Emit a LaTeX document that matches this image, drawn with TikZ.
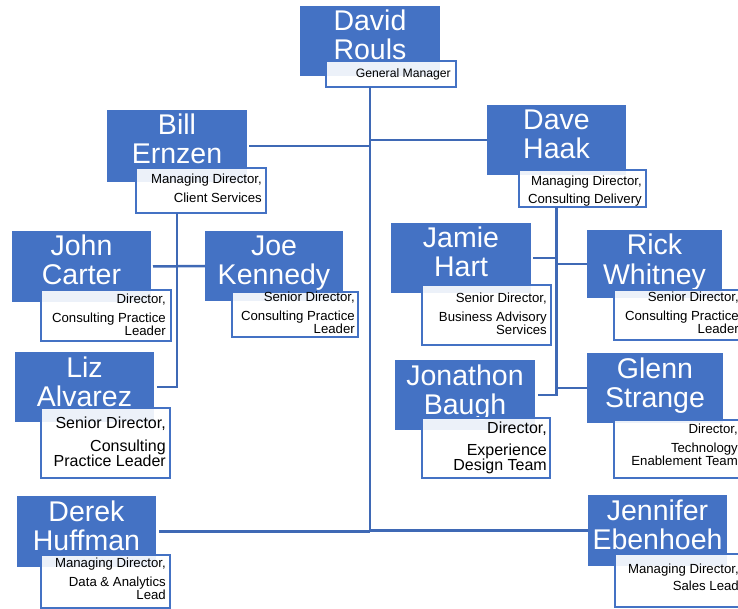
\documentclass[tikz,border=0pt]{standalone}
\usepackage{fontspec}
\setmainfont{Liberation Sans}
\definecolor{boxblue}{HTML}{4472C4}
\definecolor{linkblue}{HTML}{3F69B5}
\tikzset{
  namebox/.style={fill=boxblue, inner sep=0pt, outer sep=0pt},
  nametext/.style={text=white, font=\fontsize{28.5}{30}\selectfont, inner sep=0pt, anchor=base},
  rolebox/.style={draw=boxblue, line width=2pt, fill=white, fill opacity=0.9, inner sep=0pt, outer sep=0pt},
  roletext/.style={text=black, align=right, inner sep=0pt, anchor=north east},
  rolemid/.style={font=\fontsize{13.2}{13.5}\selectfont, yshift=9.45pt},
  rolebig/.style={font=\fontsize{16}{15.2}\selectfont, yshift=11.5pt},
  rolesmall/.style={font=\fontsize{12.2}{13}\selectfont, yshift=8.7pt},
  link/.style={draw=linkblue, line width=2.5pt},
}
% #1 id, #2-#5 box corners (x1,y1,x2,y2), #6 first name, #7 last name
\newcommand{\orgperson}[7]{%
  \node[namebox, minimum width={(#4-#2)*1pt}, minimum height={(#5-#3)*1pt}]
    (#1) at ({(#2+#4)/2},{(#3+#5)/2}) {};
  \node[nametext] (#1-a) at ({(#2+#4)/2},{#3+25}) {#6};
  \node[nametext] (#1-b) at ({(#2+#4)/2},{#3+54}) {#7};
}
% #1 id, #2-#5 box corners, #6 right edge of text, #7 first baseline, #8 text size style, #9 text
\newcommand{\orgrole}[9]{%
  \node[rolebox, minimum width={(#4-#2)*1pt}, minimum height={(#5-#3)*1pt}]
    (#1-t) at ({(#2+#4)/2},{(#3+#5)/2}) {};
  \node[roletext, #8] (#1-r) at (#6,#7) {#9};
}
\begin{document}
\begin{tikzpicture}[x=1pt, y=-1pt]
\useasboundingbox (0,0) rectangle (738,609);
\clip (0,0) rectangle (738,609);

% top
\orgperson{david}{300}{6}{440}{76}{David}{Rouls}
\orgrole{david}{326}{61}{456}{87}{451}{77}{rolesmall}{General Manager}

% second level
\orgperson{bill}{107}{110}{247}{182}{Bill}{Ernzen}
\orgrole{bill}{136}{168}{266}{213}{262}{183}{rolemid}{Managing Director,\\[5.5pt]Client Services}
\orgperson{dave}{487}{105}{626}{175}{Dave}{Haak}
\orgrole{dave}{519}{170}{646}{207}{642}{185}{rolemid}{Managing Director,\\[4.5pt]Consulting Delivery}

% left branch
\orgperson{john}{12}{231}{151}{302}{John}{Carter}
\orgrole{john}{41}{290}{171}{341}{166}{303}{rolemid}{Director,\\[5.5pt]Consulting Practice\\Leader}
\orgperson{joe}{205}{231}{343}{301}{Joe}{Kennedy}
\orgrole{joe}{232}{292}{358}{337}{355}{301}{rolemid}{Senior Director,\\[5.5pt]Consulting Practice\\Leader}
\orgperson{liz}{15}{352}{154}{422}{Liz}{Alvarez}
\orgrole{liz}{41}{408}{170}{478}{166}{428}{rolebig}{Senior Director,\\[8pt]Consulting\\Practice Leader}

% right branch
\orgperson{jamie}{391}{223}{531}{293}{Jamie}{Hart}
\orgrole{jamie}{422}{285}{551}{345}{547}{302}{rolemid}{Senior Director,\\[5.5pt]Business Advisory\\Services}
\orgperson{rick}{587}{230}{722}{298}{Rick}{Whitney}
\orgrole{rick}{614}{290}{744}{340}{739}{301}{rolemid}{Senior Director,\\[5.5pt]Consulting Practice\\Leader}
\orgperson{jonathon}{395}{360}{535}{430}{Jonathon}{Baugh}
\orgrole{jonathon}{422}{418}{550}{478}{547}{433}{rolebig}{Director,\\[7pt]Experience\\Design Team}
\orgperson{glenn}{587}{353}{723}{423}{Glenn}{Strange}
\orgrole{glenn}{614}{420}{744}{478}{738}{433}{rolemid}{Director,\\[5.5pt]Technology\\Enablement Team}

% bottom
\orgperson{derek}{17}{496}{156}{567}{Derek}{Huffman}
\orgrole{derek}{41}{555}{170}{608}{166}{567}{rolemid}{Managing Director,\\[5.5pt]Data \& Analytics\\Lead}
\orgperson{jennifer}{588}{495}{727}{566}{Jennifer}{Ebenhoeh}
\orgrole{jennifer}{615}{554}{744}{607}{739}{573}{rolemid}{Managing Director,\\[3.5pt]Sales Lead}

% main trunk and its branches
\draw[link] (david-t.south -| david.south) -- (derek.east -| david.south);
\draw[link, shorten <=2pt] (bill.east) -- (bill.east -| david.south);
\draw[link] (dave.west) -- (dave.west -| david.south);
\draw[link, shorten <=3pt] (derek.east) -- (derek.east -| david.south);
\draw[link] (jennifer.west) -- (jennifer.west -| david.south);

% left branch connectors
\draw[link] (bill-t.south -| bill.south) -- (liz.east -| bill.south) -- ([xshift=3pt]liz.east);
\draw[link, shorten <=2pt] (john.east) -- (joe.west);

% right branch connectors
\draw[link] (dave-t.south -| dave.south) -- (jonathon.east -| dave.south) -- ([xshift=3pt]jonathon.east);
\draw[link, shorten <=2pt] (jamie.east) -- (jamie.east -| dave.south);
\draw[link] (rick.west) -- (rick.west -| dave.south);
\draw[link] (glenn.west) -- (glenn.west -| dave.south);
\end{tikzpicture}
\end{document}
